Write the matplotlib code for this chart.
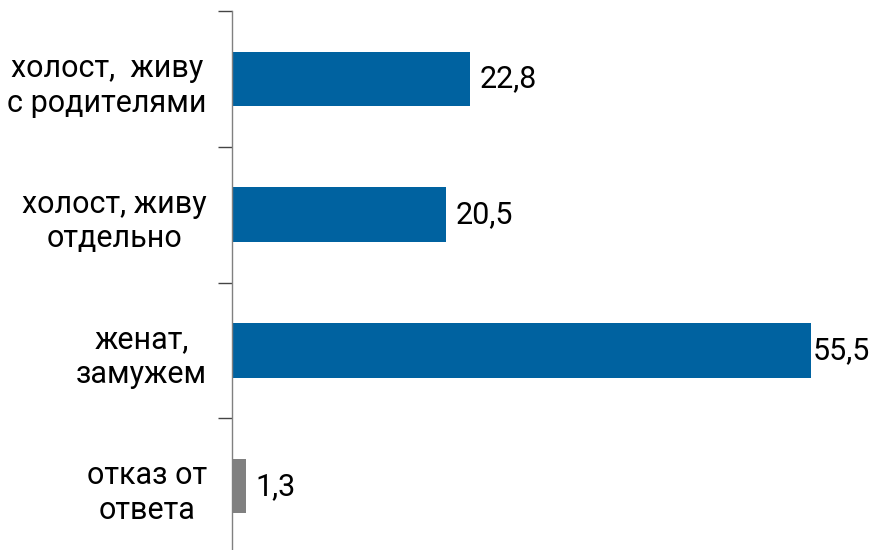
import matplotlib
matplotlib.use("Agg")
import matplotlib.pyplot as plt

# data
categories = ["холост,  живу\nс родителями", "холост, живу\nотдельно",
              "женат,\nзамужем", "отказ от\nответа"]
values = [22.8, 20.5, 55.5, 1.3]
value_labels = ["22,8", "20,5", "55,5", "1,3"]
colors = ["#0062A0", "#0062A0", "#0062A0", "#808080"]

plt.rcParams["font.family"] = ["Roboto", "DejaVu Sans"]

fig = plt.figure(figsize=(8.75, 5.5), dpi=100)
ax = fig.add_axes([232 / 875, -4 / 550, 643 / 875, 543 / 550])

pos = list(range(len(categories)))
ax.barh(pos, values, height=0.4, color=colors)

xmax = 61.6
ax.set_xlim(0, xmax)
ax.set_ylim(len(categories) - 0.5, -0.5)

for p, v, lab in zip(pos, values, value_labels):
    x = min(v + 0.9, xmax - 6.0)
    ax.text(x, p, lab, va="center", ha="left", fontsize=22, color="black")

# category labels sit a bit below the bar centre, as in the original
for p, cat in zip(pos, categories):
    ax.text(-2.4, p + 0.05, cat, va="center", ha="right", multialignment="center",
            fontsize=22, color="black", linespacing=1.25)

ax.set_yticks([i - 0.5 for i in range(len(categories) + 1)])
ax.set_yticklabels([])
ax.tick_params(axis="y", length=10, width=1, color="#444444", direction="out")
ax.set_xticks([])
for side in ["top", "right", "bottom"]:
    ax.spines[side].set_visible(False)
ax.spines["left"].set_color("#808080")
ax.spines["left"].set_linewidth(1)

fig.savefig("out.png", dpi=100)
